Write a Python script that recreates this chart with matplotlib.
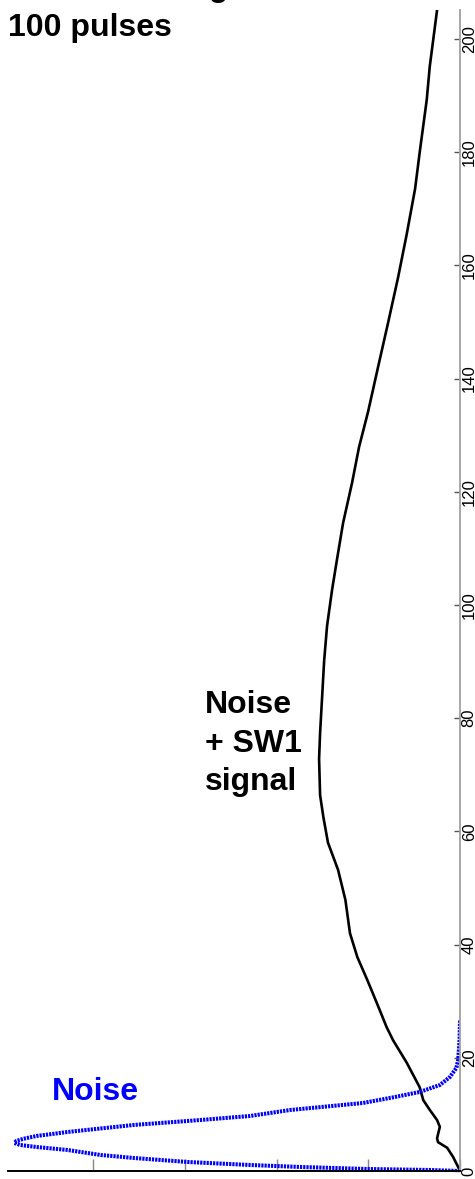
import matplotlib
matplotlib.use('Agg')
import matplotlib.pyplot as plt

plt.rcParams['font.family'] = ['Liberation Sans', 'DejaVu Sans']

# Noise + SW1 signal: amplitude (y) vs. counts (x)
signal_y = [0, 0.7, 2.5, 4.1, 5.1, 5.8, 7.8, 9.0, 10.8, 12.5, 14.8, 19.1, 23.1, 25.4,
            29.0, 33.7, 37.8, 42.0, 47.9, 53.2, 58.0, 62.5, 66.4, 72.8, 77.4, 83.7,
            90.1, 96.3, 102.7, 108.1, 114.5, 121.6, 127.9, 134.1, 142.0, 149.8,
            157.8, 165.5, 173.5, 180.4, 189.2, 195.1, 205.1]
signal_x = [0, 0.02, 0.076, 0.14, 0.24, 0.25, 0.22, 0.25, 0.33, 0.40, 0.44, 0.58, 0.73,
            0.80, 0.89, 1.01, 1.12, 1.20, 1.25, 1.33, 1.44, 1.49, 1.526, 1.537, 1.526,
            1.504, 1.482, 1.450, 1.395, 1.341, 1.275, 1.177, 1.101, 1.003, 0.894,
            0.785, 0.676, 0.581, 0.490, 0.436, 0.363, 0.33, 0.25]

# Noise only
noise_y = [0, 0.18, 0.35, 0.71, 1.06, 1.59, 2.30, 2.83, 3.71, 4.24, 4.60, 4.95, 5.30,
           5.70, 6.18, 6.89, 8.13, 9.01, 9.72, 10.78, 12.01, 13.07, 13.96, 15.19,
           16.61, 18.20, 19.61, 23.1, 26.7]
noise_x = [0, 0.33, 1.0, 1.74, 2.29, 2.97, 3.56, 3.92, 4.28, 4.62, 4.80, 4.86, 4.84,
           4.76, 4.62, 4.28, 3.56, 2.83, 2.29, 1.85, 1.06, 0.71, 0.44, 0.22, 0.11,
           0.04, 0.02, 0.005, 0.0]

yticks = list(range(0, 201, 20))
xticks = [0, 1, 2, 3, 4]

fig = plt.figure(figsize=(4.75, 11.79), dpi=100)
ax = fig.add_axes([0.01684, 0.00679, 0.95158, 0.98473])

ax.plot(signal_x, signal_y, color='black', lw=1.9, solid_joinstyle='round')
ax.plot(noise_x, noise_y, color='#0000ff', lw=2.9, linestyle=(0, (0.55, 0.25)),
        dash_capstyle='butt')

ax.set_xlim(4.93, 0)
ax.set_ylim(0, 205.1)

for s in ['left', 'top']:
    ax.spines[s].set_visible(False)
ax.spines['right'].set_color('#a0a0a0')
ax.spines['right'].set_linewidth(1.3)
ax.spines['bottom'].set_color('black')
ax.spines['bottom'].set_linewidth(1.4)

ax.yaxis.tick_right()
ax.set_yticks(yticks)
ax.set_yticklabels([str(v) for v in yticks], rotation=90, va='center')
ax.tick_params(axis='y', direction='in', length=4, width=1, color='#555555',
               labelsize=12, pad=1.2, labelcolor='black')
ax.set_xticks(xticks)
ax.set_xticklabels([])
ax.tick_params(axis='x', direction='in', length=8.5, width=1, color='#888888')

# headings
fig.text(8 / 475, 1 + 4 / 1179, 'Sum of the signal over', fontsize=23,
         fontweight='bold', va='baseline', ha='left')
fig.text(8 / 475, 1 - 36 / 1179, '100 pulses', fontsize=23, fontweight='bold',
         va='baseline', ha='left')

fig.text(52 / 475, 1 - 1100 / 1179, 'Noise', fontsize=23, fontweight='bold',
         color='#0000ff', va='baseline', ha='left')
for i, line in enumerate(['Noise', '+ SW1', 'signal']):
    fig.text(205 / 475, 1 - (713 + 38.5 * i) / 1179, line, fontsize=23,
             fontweight='bold', va='baseline', ha='left')

fig.savefig('out.png', dpi=100)
